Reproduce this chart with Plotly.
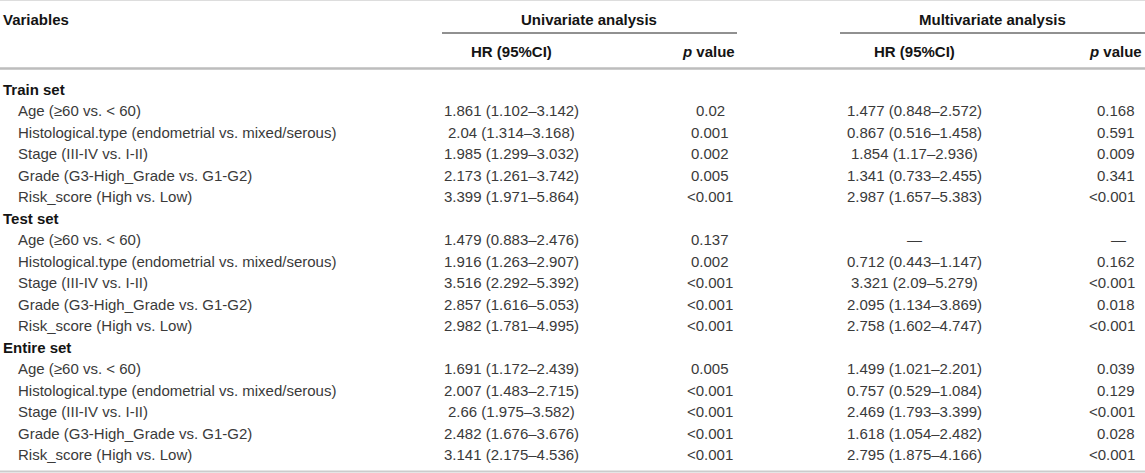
import plotly.graph_objects as go

# ---- data ----
groups = ["Train set", "Test set", "Entire set"]
variables = [
    "Age (≥60 vs. < 60)",
    "Histological.type (endometrial vs. mixed/serous)",
    "Stage (III-IV vs. I-II)",
    "Grade (G3-High_Grade vs. G1-G2)",
    "Risk_score (High vs. Low)",
]
uni_hr = [
    ["1.861 (1.102–3.142)", "2.04 (1.314–3.168)", "1.985 (1.299–3.032)", "2.173 (1.261–3.742)", "3.399 (1.971–5.864)"],
    ["1.479 (0.883–2.476)", "1.916 (1.263–2.907)", "3.516 (2.292–5.392)", "2.857 (1.616–5.053)", "2.982 (1.781–4.995)"],
    ["1.691 (1.172–2.439)", "2.007 (1.483–2.715)", "2.66 (1.975–3.582)", "2.482 (1.676–3.676)", "3.141 (2.175–4.536)"],
]
uni_p = [
    ["0.02", "0.001", "0.002", "0.005", "<0.001"],
    ["0.137", "0.002", "<0.001", "<0.001", "<0.001"],
    ["0.005", "<0.001", "<0.001", "<0.001", "<0.001"],
]
multi_hr = [
    ["1.477 (0.848–2.572)", "0.867 (0.516–1.458)", "1.854 (1.17–2.936)", "1.341 (0.733–2.455)", "2.987 (1.657–5.383)"],
    ["—", "0.712 (0.443–1.147)", "3.321 (2.09–5.279)", "2.095 (1.134–3.869)", "2.758 (1.602–4.747)"],
    ["1.499 (1.021–2.201)", "0.757 (0.529–1.084)", "2.469 (1.793–3.399)", "1.618 (1.054–2.482)", "2.795 (1.875–4.166)"],
]
multi_p = [
    ["0.168", "0.591", "0.009", "0.341", "<0.001"],
    ["—", "0.162", "<0.001", "0.018", "<0.001"],
    ["0.039", "0.129", "<0.001", "0.028", "<0.001"],
]
header_vars = "Variables"
header_groups = ["Univariate analysis", "Multivariate analysis"]
header_cols = ["HR (95%CI)", "<i>p</i> value", "HR (95%CI)", "<i>p</i> value"]

# ---- layout constants ----
W, H = 1145, 473
FONT = "Liberation Sans, Arial, sans-serif"
FS = 15
BODY = "#3a3a3a"
BOLD = "#141414"
X_LABEL, X_INDENT = 1, 16
X_UHR, X_UP, X_MHR, X_MP = 511, 710, 914, 1137
ROW0, ROWH = 89, 21.5

fig = go.Figure()
fig.add_trace(go.Scatter(x=[0, W], y=[0, H], mode="markers",
                         marker=dict(opacity=0), hoverinfo="skip", showlegend=False))

ann = []
def txt(x, y, s, anchor="left", bold=False):
    ann.append(dict(x=x, y=y, xref="x", yref="y", text=("<b>%s</b>" % s) if bold else s,
                    showarrow=False, xanchor=anchor, yanchor="middle",
                    font=dict(family=FONT, size=FS, color=BOLD if bold else BODY)))

# headers
txt(X_LABEL, 19, header_vars, "left", True)
txt(589, 19, header_groups[0], "center", True)
txt(992, 19, header_groups[1], "center", True)
txt(X_UHR, 51, header_cols[0], "center", True)
txt(737, 51, header_cols[1], "right", True)
txt(X_MHR, 51, header_cols[2], "center", True)
txt(1144, 51, header_cols[3], "right", True)

row = 0
for g, name in enumerate(groups):
    y = ROW0 + row * ROWH
    txt(X_LABEL, y, name, "left", True)
    row += 1
    for i, v in enumerate(variables):
        y = ROW0 + row * ROWH
        txt(X_INDENT, y, v, "left")
        txt(X_UHR, y, uni_hr[g][i], "center")
        txt(X_UP, y, uni_p[g][i], "center")
        txt(X_MHR, y, multi_hr[g][i], "center")
        if multi_p[g][i] == "—":
            txt(1118, y, multi_p[g][i], "center")
        else:
            txt(X_MP, y, multi_p[g][i], "right")
        row += 1

shapes = [
    dict(type="line", xref="x", yref="y", x0=0, x1=W, y0=0.5, y1=0.5, line=dict(color="#dddddd", width=1)),
    dict(type="line", xref="x", yref="y", x0=442, x1=737, y0=33, y1=33, line=dict(color="#222222", width=1)),
    dict(type="line", xref="x", yref="y", x0=840, x1=W, y0=33, y1=33, line=dict(color="#222222", width=1)),
    dict(type="line", xref="x", yref="y", x0=0, x1=W, y0=68.5, y1=68.5, line=dict(color="#bdbdbd", width=2.5)),
    dict(type="line", xref="x", yref="y", x0=0, x1=W, y0=471.5, y1=471.5, line=dict(color="#cccccc", width=2)),
]

fig.update_layout(
    width=W, height=H, margin=dict(l=0, r=0, t=0, b=0),
    paper_bgcolor="white", plot_bgcolor="white",
    xaxis=dict(range=[0, W], visible=False, fixedrange=True),
    yaxis=dict(range=[H, 0], visible=False, fixedrange=True),
    annotations=ann, shapes=shapes, showlegend=False,
)
fig.write_html("out.html", config={"displayModeBar": False},
               post_script="document.body.style.margin='0';document.body.style.overflow='hidden';")
